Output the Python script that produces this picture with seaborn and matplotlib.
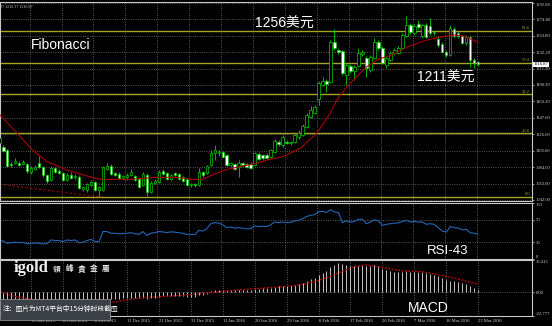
import numpy as np
import pandas as pd
import matplotlib
matplotlib.use("Agg")
import matplotlib.pyplot as plt
from matplotlib.patches import Rectangle
import seaborn as sns

sns.set_theme(style="dark", rc={"axes.facecolor": "black", "figure.facecolor": "black"})
plt.rcParams['font.family'] = ['Liberation Sans', 'Noto Sans CJK SC', 'DejaVu Sans']

# ---------------- data (daily XAUUSD bars) ----------------
opens = [1115.4, 1110.3, 1106.4, 1088.4, 1089.7, 1089.7, 1088.4, 1088.4, 1078.1, 1081.9,
         1089.7, 1084.5, 1074.2, 1067.8, 1083.2, 1079.4, 1076.8, 1067.8, 1074.2, 1071.6,
         1071.6, 1056.2, 1054.9, 1061.3, 1065.2, 1054.9, 1054.9, 1081.9, 1085.8, 1076.8,
         1075.5, 1070.3, 1071.6, 1074.2, 1072.9, 1069.0, 1061.3, 1074.2, 1052.3, 1063.9,
         1065.2, 1079.4, 1076.8, 1069.0, 1076.8, 1075.5, 1071.6, 1069.0, 1061.3, 1062.6,
         1061.3, 1078.1, 1076.8, 1087.1, 1102.5, 1102.5, 1103.8, 1099.9, 1087.1, 1088.4,
         1084.5, 1089.7, 1088.4, 1088.4, 1087.1, 1101.2, 1099.9, 1099.9, 1097.4, 1103.8,
         1116.7, 1112.8, 1116.7, 1115.4, 1116.7, 1123.1, 1125.7, 1136.0, 1148.9, 1154.1,
         1172.1, 1190.1, 1195.3, 1194.0, 1245.5, 1235.2, 1233.9, 1203.0, 1214.6, 1208.2,
         1214.6, 1230.0, 1224.9, 1209.4, 1224.9, 1245.5, 1237.8, 1215.9, 1222.3, 1231.3,
         1231.3, 1237.8, 1253.2, 1267.4, 1257.1, 1268.7, 1253.2, 1267.4, 1266.1, 1257.1,
         1249.4, 1242.9, 1232.6, 1228.8, 1262.2, 1257.1, 1253.2, 1244.2, 1251.9, 1222.3,
         1219.7]
highs = [1124.4, 1112.8, 1107.7, 1090.9, 1096.1, 1092.2, 1093.5, 1089.7, 1085.8, 1087.1,
         1098.7, 1085.8, 1075.5, 1085.8, 1084.5, 1081.9, 1078.1, 1076.8, 1078.1, 1075.5,
         1074.2, 1060.0, 1063.9, 1067.8, 1066.5, 1060.0, 1085.8, 1089.7, 1088.4, 1078.1,
         1078.1, 1074.2, 1076.8, 1081.9, 1074.2, 1071.6, 1078.1, 1076.8, 1066.5, 1069.0,
         1080.6, 1081.9, 1078.1, 1075.5, 1078.1, 1076.8, 1072.9, 1070.3, 1063.9, 1063.9,
         1083.2, 1079.4, 1087.1, 1106.4, 1112.8, 1106.4, 1105.1, 1101.2, 1090.9, 1089.7,
         1093.5, 1090.9, 1089.7, 1090.9, 1103.8, 1103.8, 1101.2, 1102.5, 1107.7, 1120.6,
         1119.3, 1125.7, 1119.3, 1118.0, 1127.0, 1132.2, 1139.9, 1154.1, 1163.1, 1164.4,
         1195.3, 1200.4, 1197.9, 1248.1, 1262.2, 1237.8, 1235.2, 1218.5, 1217.2, 1215.9,
         1237.8, 1235.2, 1227.5, 1228.8, 1250.7, 1248.1, 1240.4, 1227.5, 1233.9, 1237.8,
         1240.4, 1257.1, 1279.0, 1270.0, 1268.7, 1273.8, 1268.7, 1270.0, 1276.4, 1261.0,
         1251.9, 1245.5, 1235.2, 1267.4, 1264.8, 1259.7, 1254.5, 1254.5, 1253.2, 1224.9,
         1221.0]
lows = [1112.8, 1103.8, 1084.5, 1084.5, 1088.4, 1085.8, 1087.1, 1076.8, 1075.5, 1080.6,
        1083.2, 1071.6, 1063.9, 1066.5, 1076.8, 1075.5, 1066.5, 1066.5, 1069.0, 1069.0,
        1056.2, 1053.6, 1052.3, 1060.0, 1053.6, 1046.2, 1053.6, 1080.6, 1074.2, 1072.9,
        1069.0, 1069.0, 1067.8, 1072.9, 1066.5, 1057.5, 1060.0, 1047.2, 1051.0, 1062.6,
        1063.9, 1074.2, 1067.8, 1067.8, 1072.9, 1067.8, 1065.2, 1060.0, 1058.7, 1058.7,
        1060.0, 1071.6, 1075.5, 1085.8, 1093.5, 1098.7, 1096.1, 1085.8, 1084.5, 1080.6,
        1071.6, 1085.8, 1083.2, 1081.9, 1085.8, 1093.5, 1093.5, 1094.8, 1096.1, 1102.5,
        1111.6, 1110.3, 1114.1, 1112.8, 1115.4, 1120.6, 1124.4, 1134.7, 1147.6, 1152.8,
        1164.4, 1188.8, 1181.1, 1192.7, 1235.2, 1230.0, 1203.0, 1190.1, 1205.6, 1196.6,
        1213.3, 1227.5, 1200.4, 1206.9, 1223.6, 1235.2, 1217.2, 1212.0, 1221.0, 1228.8,
        1230.0, 1236.5, 1251.9, 1255.8, 1254.5, 1262.2, 1250.7, 1250.7, 1254.5, 1254.5,
        1239.1, 1231.3, 1226.2, 1227.5, 1251.9, 1250.7, 1242.9, 1241.6, 1213.3, 1212.0,
        1214.6]
closes = [1121.7, 1105.1, 1085.8, 1087.1, 1092.2, 1087.1, 1090.9, 1079.0, 1083.2, 1084.5,
          1084.5, 1074.2, 1066.5, 1083.2, 1078.1, 1076.8, 1067.8, 1074.2, 1070.3, 1072.9,
          1057.5, 1058.7, 1062.6, 1065.2, 1054.9, 1058.7, 1084.5, 1085.8, 1075.5, 1074.2,
          1070.3, 1072.9, 1074.2, 1078.1, 1067.8, 1058.7, 1075.5, 1052.3, 1063.9, 1066.5,
          1078.1, 1075.5, 1069.0, 1074.2, 1074.2, 1069.0, 1066.5, 1061.3, 1062.6, 1061.3,
          1078.1, 1074.2, 1085.8, 1102.5, 1106.4, 1103.8, 1097.4, 1087.1, 1089.7, 1081.9,
          1089.7, 1087.1, 1084.5, 1083.2, 1102.5, 1094.8, 1096.1, 1096.1, 1106.4, 1118.0,
          1114.1, 1123.1, 1115.4, 1116.7, 1125.7, 1128.3, 1137.3, 1151.5, 1157.9, 1161.8,
          1192.7, 1195.3, 1191.4, 1245.5, 1237.8, 1232.6, 1205.6, 1215.9, 1208.2, 1213.3,
          1231.3, 1232.6, 1212.0, 1226.2, 1245.5, 1237.8, 1218.5, 1224.9, 1231.3, 1235.2,
          1237.8, 1254.5, 1267.4, 1258.4, 1266.1, 1264.8, 1267.4, 1251.9, 1257.1, 1258.4,
          1241.6, 1232.6, 1228.8, 1263.5, 1253.2, 1253.2, 1244.2, 1251.9, 1222.3, 1218.5,
          1216.87]

# moving average (red) sampled along the line
ma_bar = [0.2, 4.5, 8.3, 12.0, 17.0, 22.0, 25.4, 32.4, 39.9, 44.1, 48.4, 50.9, 53.4, 56.6,
          60.9, 64.1, 67.1, 71.1, 75.4, 79.6, 82.9, 84.6, 87.1, 89.6, 92.1, 94.9, 98.4,
          102.4, 106.6, 110.9, 114.1, 116.6, 120.0]
ma_val = [1151.5, 1127.9, 1106.4, 1091.3, 1080.6, 1072.9, 1068.6, 1068.6, 1071.2, 1071.2,
          1068.6, 1068.6, 1074.2, 1080.6, 1085.8, 1088.4, 1093.5, 1097.8, 1108.6, 1127.9,
          1153.7, 1170.8, 1187.9, 1200.8, 1213.7, 1223.2, 1228.8, 1239.4, 1247.2, 1252.3,
          1254.5, 1253.2, 1244.6]

# Fibonacci retracement
fib_low = 1046.2
fib_high = 1391.4
fib_levels = [0.0, 23.6, 38.2, 50.0, 61.8]
fib_trend_bar = [0.0, 25.0]
fib_trend_val = [1062.2, 1046.2]

# RSI(14)
rsi = [34, 32, 28, 29, 30, 29, 30, 27, 28, 28.5, 28, 27, 27.5, 34, 33, 33, 31, 34, 33, 34,
       29, 30, 33, 35, 31, 31, 49, 49, 46, 46, 45, 45.5, 46, 47, 45, 44, 49, 42, 46, 47,
       49, 48.5, 47, 48.5, 48, 47, 46, 44, 44, 43.5, 51, 50, 54, 63, 65, 64, 61, 56, 57, 55,
       56, 55, 54, 54, 59, 58, 58.5, 58, 61, 66, 65, 66, 65, 65.5, 68, 69, 72, 76, 78, 79,
       84.5, 85, 83, 88, 84, 83, 65, 68, 66, 67, 71, 71, 63, 66, 70, 68, 60, 62, 63, 64,
       64.5, 67, 69, 66, 67, 66, 66, 62, 63, 62, 56, 50, 48, 58, 56, 55.5, 52, 53, 47, 46,
       44.5]

# MACD histogram and signal
macd = [-8, -9, -10, -11, -11.5, -12, -12.5, -13, -13, -13, -13, -13.5, -14, -13.5, -13, -13,
        -13, -12.5, -12.5, -13, -13.5, -13.5, -13, -12.5, -12.5, -12, -10, -9, -7, -6.5,
        -6.5, -6, -6, -5.5, -5.5, -6, -5.5, -6.5, -6, -5.5, -4.5, -4, -4, -4, -3.8, -3.8,
        -4, -4.3, -4.5, -4.5, -3, -2.5, -1.5, 0.5, 1.5, 2, 2.3, 2, 2, 1.8, 2, 2, 2, 1.8,
        3, 3.3, 3.4, 3.5, 4.2, 5.2, 5.4, 5.8, 6, 6.2, 6.8, 7.5, 9, 10.4, 12, 13, 16.3, 18.5,
        20, 23.5, 26, 28, 26.6, 25.5, 24.8, 24.5, 25.1, 25.6, 25, 25, 25.5, 24.5, 22.2,
        20.5, 19.5, 19.2, 19, 19, 19.5, 19.2, 18.9, 18.7, 18.7, 17.8, 17, 16, 15.2, 13.5,
        11.5, 10.4, 10.2, 9.9, 8.5, 7.2, 5.5, 3.8, 1.6]
sig_bar = [0, 3, 8, 14, 20, 26, 28, 35.4, 45.4, 53.6, 60.4, 69.4, 74.4, 79.4, 82.6, 86.1,
           89.4, 91.9, 94.4, 97.6, 101.1, 106.1, 111.1, 116.1, 120]
sig_val = [1, -3.5, -7, -9, -10.3, -10.5, -10, -5.5, -3.3, -0.4, 2.2, 4.6, 6.3, 9.9, 14.3,
           20.1, 24.5, 25.7, 24.5, 22.2, 20.1, 19.2, 15.7, 11.3, 7.5]

price_ticks = [1295.80, 1274.80, 1253.80, 1232.20, 1211.20, 1190.20, 1169.20, 1147.60,
               1126.60, 1105.60, 1084.00, 1063.00, 1042.00]
rsi_ticks = [0, 30, 70, 100]
macd_ticks = [-22.777, 0.0, 30.413]
date_pos = [8, 16, 24, 32, 40, 48, 56, 64, 72, 80, 88, 96, 104, 112, 120]
date_labels = ["13 Nov 2015", "23 Nov 2015", "2 Dec 2015", "11 Dec 2015", "21 Dec 2015",
               "31 Dec 2015", "11 Jan 2016", "20 Jan 2016", "29 Jan 2016", "8 Feb 2016",
               "17 Feb 2016", "26 Feb 2016", "7 Mar 2016", "16 Mar 2016", "25 Mar 2016"]
last_price = 1216.87

# ---------------- figure ----------------
W, H = 552, 326
fig = plt.figure(figsize=(W / 100, H / 100), dpi=100)
fig.patch.set_facecolor("black")

def box(top, bottom):
    return [0.0, 1 - bottom / H, 532 / W, (bottom - top) / H]

ax = fig.add_axes(box(2, 201))
ax_rsi = fig.add_axes(box(203, 259))
ax_macd = fig.add_axes(box(260, 316))

GREEN = "#00cc00"
GRID = "#8a8a8a"
SPINE = "#c8c8c8"
TICKC = "#d8d8d8"
OLIVE = "#a4a428"
XLIM = (0.18, 133.5)
TFS = 3.3
TFONT = ["Liberation Serif", "DejaVu Serif"]

bars = np.arange(len(closes))
o = np.array(opens); c = np.array(closes); h = np.array(highs); l = np.array(lows)
bull = c >= o
body_lo = np.minimum(o, c)
body_h = np.maximum(np.abs(c - o), 0.9)

for a in (ax, ax_rsi, ax_macd):
    a.set_facecolor("black")
    a.set_xlim(*XLIM)
    for s in a.spines.values():
        s.set_color(SPINE)
        s.set_linewidth(0.8)
    a.set_xticks([p - 0.4 for p in date_pos])
    a.grid(True, color=GRID, linestyle=(0, (1, 2)), linewidth=0.55)
    a.yaxis.tick_right()
    a.tick_params(axis="y", colors=TICKC, labelsize=TFS, length=1.5, width=0.5, pad=1,
                  direction="out")
    a.tick_params(axis="x", length=0)
    a.set_xticklabels([])
    a.set_xlabel(""); a.set_ylabel("")

# ---- price panel ----
ax.set_ylim(1040.7, 1297.0)
ax.vlines(bars, l, h, color=GREEN, linewidth=0.6, zorder=3)
ax.bar(bars, body_h, bottom=body_lo, width=0.62,
       color=np.where(bull, "black", "white"), edgecolor=GREEN, linewidth=0.5, zorder=4)
sns.lineplot(x=ma_bar, y=ma_val, ax=ax, color="#a80000", linewidth=0.8, zorder=5,
             sort=False, estimator=None)
sns.lineplot(x=fib_trend_bar, y=fib_trend_val, ax=ax, color="#a00000", linewidth=0.8,
             linestyle=(0, (2, 2)), zorder=2, sort=False, estimator=None)
for lev in fib_levels:
    val = fib_low + (fib_high - fib_low) * lev / 100.0
    ax.axhline(val, color=OLIVE, linewidth=1.0, zorder=2)
    ax.text(133.0, val + 0.8, f"{lev:.1f}", color=OLIVE, fontsize=TFS, family=TFONT,
            ha="right", va="bottom", zorder=6)
ax.set_yticks(price_ticks)
ax.set_yticklabels([f"{v:.2f}" for v in price_ticks], family=TFONT)
ax.get_yticklabels()[0].set_va("top")
ax.text(1.003, last_price, f"{last_price:.2f}", transform=ax.get_yaxis_transform(),
        fontsize=TFS, family=TFONT, color="black", ha="left", va="center",
        bbox=dict(boxstyle="square,pad=0.15", fc="white", ec="white", lw=0), clip_on=False,
        zorder=10)

# ---- RSI panel ----
ax_rsi.set_ylim(0, 100)
sns.lineplot(x=bars, y=rsi, ax=ax_rsi, color="#2266b8", linewidth=0.8, estimator=None)
ax_rsi.set_yticks(rsi_ticks)
ax_rsi.set_yticklabels([str(v) for v in rsi_ticks], family=TFONT)
ax_rsi.get_yticklabels()[0].set_va("bottom")
ax_rsi.get_yticklabels()[-1].set_va("top")

# ---- MACD panel ----
ax_macd.set_ylim(macd_ticks[0], macd_ticks[-1])
ax_macd.vlines(bars, 0, macd, color="#c4c4c4", linewidth=0.7)
sns.lineplot(x=sig_bar, y=sig_val, ax=ax_macd, color="#d00000", linewidth=0.9,
             linestyle=(0, (1.5, 1.2)), sort=False, estimator=None)
ax_macd.set_yticks(macd_ticks)
ax_macd.set_yticklabels(["-22.777", "0.00", "30.413"], family=TFONT)
ax_macd.get_yticklabels()[0].set_va("bottom")
ax_macd.get_yticklabels()[-1].set_va("top")
ax_macd.set_xticks(date_pos)
ax_macd.set_xticklabels(date_labels, family=TFONT)
ax_macd.tick_params(axis="x", colors=TICKC, labelsize=TFS, length=1.5, width=0.5, pad=1)
for t in ax_macd.get_xticklabels():
    t.set_ha("left")

# ---------------- annotations ----------------
def fx(x):
    return x / W

def fy(y):
    return 1 - y / H

fig.text(fx(0), fy(7), "07 1216.37 1216.87", color="#c8c8c8", fontsize=3, family=TFONT,
         va="center")
fig.text(fx(31), fy(45), "Fibonacci", color="white", fontsize=10, va="center")
fig.text(fx(255), fy(24), "1256美元", color="white", fontsize=10, va="center")
fig.text(fx(417), fy(78), "1211美元", color="white", fontsize=10, va="center")
fig.text(fx(427), fy(250.5), "RSI-43", color="white", fontsize=9.5, va="center")
fig.text(fx(408), fy(307.5), "MACD", color="white", fontsize=10, va="center")

fig.text(fx(14), fy(268), "igold", color="#f0f0f0", fontsize=12, weight="bold",
         family=["Liberation Serif", "DejaVu Serif"], va="center")
logo_chars = ["領", "峰", "貴", "金", "屬"]
for k, ch in enumerate(logo_chars):
    fig.text(fx(53 + 12.2 * k), fy(269), ch, color="#e8e8e8", fontsize=5.6, weight="bold",
             family=["Noto Sans CJK TC", "DejaVu Sans"], va="center")

note = Rectangle((0, fy(320)), fx(110), (320 - 299) / H, transform=fig.transFigure,
                 facecolor="#3c4147", edgecolor="#8c8c8c", linewidth=0.6, zorder=20)
fig.add_artist(note)
fig.text(fx(3), fy(309), "注：图片为MT4平台中15分钟时段截图", color="white", fontsize=4.9,
         family=["Noto Sans CJK SC", "DejaVu Sans"], va="center", zorder=21)

fig.savefig("out.png", dpi=100, facecolor="black")
